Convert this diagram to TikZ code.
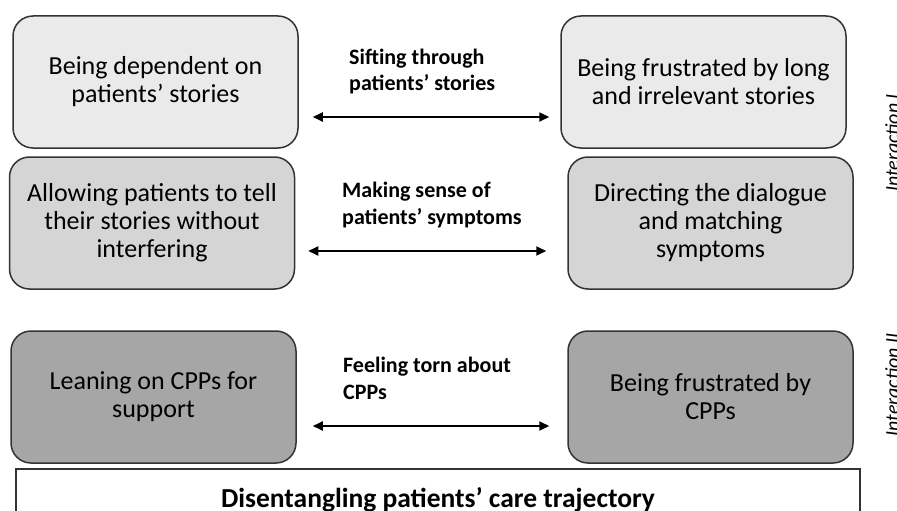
\documentclass[tikz,border=0pt]{standalone}
\usepackage{fontspec}
\setmainfont{Carlito}
\usetikzlibrary{arrows.meta}
\definecolor{fillA}{HTML}{EAEAEA}
\definecolor{fillB}{HTML}{D5D5D5}
\definecolor{fillC}{HTML}{A6A6A6}
\definecolor{edge}{HTML}{333333}
\tikzset{
  box/.style={draw=edge, line width=1.5pt, rounded corners=20pt, minimum width=285pt, minimum height=132pt, inner sep=0pt, align=center, font=\fontsize{26}{28}\selectfont},
  lbl/.style={anchor=base west, inner sep=0pt, align=left, font=\fontsize{22}{27}\selectfont\bfseries},
  arr/.style={line width=2pt, {Triangle[length=10pt,width=9pt]}-{Triangle[length=10pt,width=9pt]}},
  side/.style={rotate=90, anchor=base, inner sep=0pt, font=\fontsize{20}{24}\selectfont\itshape}
}
\begin{document}
\begin{tikzpicture}[x=1pt,y=-1pt]
\useasboundingbox (0,0) rectangle (897,511);
\clip (0,0) rectangle (897,511);
\node[box, fill=fillA] (b1) at (155.5,82) {Being dependent on\\patients’ stories};
\node[box, fill=fillA] (b2) at (703.5,82) {Being frustrated by long\\and irrelevant stories};
\node[box, fill=fillB] (b3) at (152,223) {Allowing patients to tell\\their stories without\\interfering};
\node[box, fill=fillB] (b4) at (710.5,223) {Directing the dialogue\\and matching\\symptoms};
\node[box, fill=fillC] (b5) at (153.5,397) {Leaning on CPPs for\\support};
\node[box, fill=fillC] (b6) at (710.5,397) {Being frustrated by\\CPPs};
\node[draw=edge, line width=1.5pt, fill=white, minimum width=844pt, minimum height=62pt, inner sep=0pt, font=\fontsize{27.5}{30}\selectfont\bfseries] (t) at (438,500) {Disentangling patients’ care trajectory};
\node[lbl] (l1) at (349,91) {Sifting through\\patients’ stories};
\node[lbl] (l2) at (342,224) {Making sense of\\patients’ symptoms};
\node[lbl] (l3) at (343,399) {Feeling torn about\\CPPs};
\draw[arr] ([xshift=14pt,yshift=-35pt]b1.east) -- ([xshift=-11pt,yshift=-35pt]b2.west);
\draw[arr] ([xshift=13pt,yshift=-28pt]b3.east) -- ([xshift=-21pt,yshift=-28pt]b4.west);
\draw[arr] ([xshift=16pt,yshift=-29pt]b5.east) -- ([xshift=-18pt,yshift=-29pt]b6.west);
\node[side] (i1) at (899,143) {Interaction I};
\node[side] (i2) at (899,385) {Interaction II};
\end{tikzpicture}
\end{document}
